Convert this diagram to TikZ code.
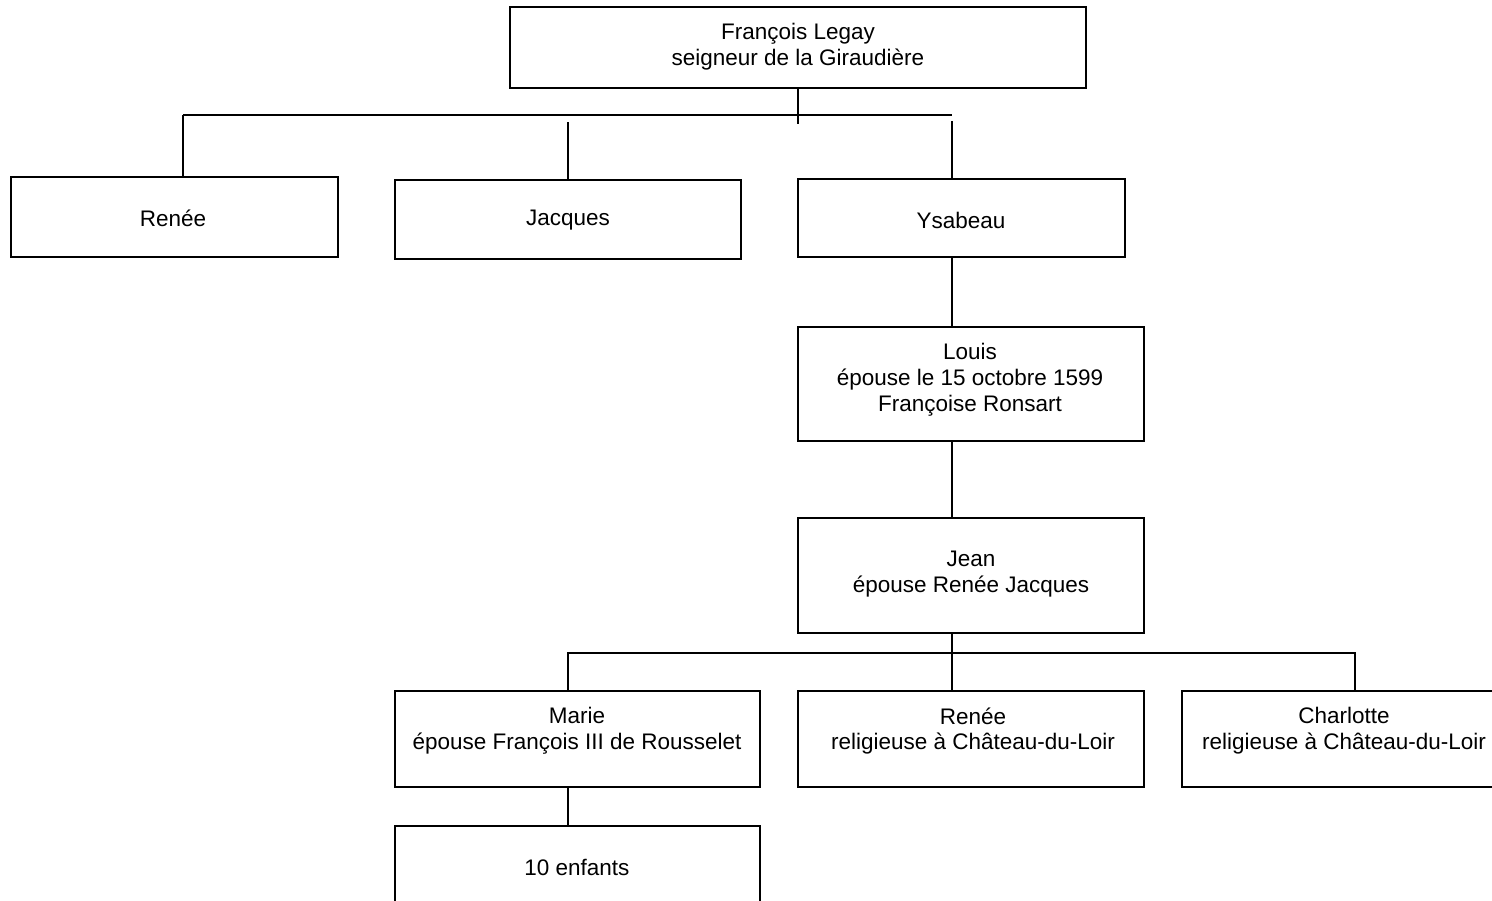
\documentclass[tikz,border=0pt]{standalone}
\usepackage{fontspec}
\setmainfont{Liberation Sans}
\usetikzlibrary{positioning}

\tikzset{
  cadre/.style={draw, line width=1.1pt, inner sep=0pt},
  nom/.style={align=center, inner sep=0pt, font=\fontsize{12.8}{14.7}\selectfont},
  lien/.style={line width=1.1pt}
}

\begin{document}
\begin{tikzpicture}[x=0.02cm, y=-0.02cm]
      \clip (0,0) rectangle (1492,901);
      \fill[white] (0,0) rectangle (1492,901);
      % boxes
      \node[cadre, minimum width=11.52cm, minimum height=1.62cm] (francois) at (798,47.5) {};
      \node[cadre, minimum width=6.54cm, minimum height=1.6cm] (renee) at (174.5,217) {};
      \node[cadre, minimum width=6.92cm, minimum height=1.58cm] (jacques) at (568,219.5) {};
      \node[cadre, minimum width=6.54cm, minimum height=1.56cm] (ysabeau) at (961.5,218) {};
      \node[cadre, minimum width=6.92cm, minimum height=2.28cm] (louis) at (971,384) {};
      \node[cadre, minimum width=6.92cm, minimum height=2.3cm] (jean) at (971,575.5) {};
      \node[cadre, minimum width=7.3cm, minimum height=1.92cm] (marie) at (577.5,739) {};
      \node[cadre, minimum width=6.92cm, minimum height=1.92cm] (renee2) at (971,739) {};
      \node[cadre, minimum width=6.48cm, minimum height=1.92cm] (charlotte) at (1344,739) {};
      \node[cadre, minimum width=7.3cm, minimum height=2cm] (enfants) at (577.5,876) {};
      % names
      \node[nom] (francois-t) at (798,47) {François Legay\\seigneur de la Giraudière};
      \node[nom] (renee-t) at (173,218) {Renée};
      \node[nom] (jacques-t) at (568,220) {Jacques};
      \node[nom] (ysabeau-t) at (961,220) {Ysabeau};
      \node[nom] (louis-t) at (970,380) {Louis\\épouse le 15 octobre 1599\\Françoise Ronsart};
      \node[nom] (jean-t) at (971,574) {Jean\\épouse Renée Jacques};
      \node[nom] (marie-t) at (577,731) {Marie\\épouse François III de Rousselet};
      \node[nom] (renee2-t) at (973,731) {Renée\\religieuse à Château-du-Loir};
      \node[nom] (charlotte-t) at (1344,731) {Charlotte\\religieuse à Château-du-Loir};
      \node[nom] (enfants-t) at (577,867) {10 enfants};
      % first generation
      \coordinate (bus1g) at (183,115);
      \coordinate (bus1) at (952,115);
      \draw[lien] (francois.south) -- ++(0,35);
      \draw[lien] (bus1g) -- (bus1);
      \draw[lien] (bus1g) -- (bus1g |- renee.north);
      \draw[lien] (jacques.north) -- ++(0,-57);
      \draw[lien] (bus1 |- ysabeau.north) -- ++(0,-57);
      % line of Ysabeau
      \draw[lien] (bus1 |- ysabeau.south) -- (bus1 |- louis.north);
      \draw[lien] (bus1 |- louis.south) -- (bus1 |- jean.north);
      % children of Jean
      \coordinate (bus2g) at (568,653);
      \coordinate (bus2d) at (1355,653);
      \draw[lien] (bus1 |- jean.south) -- (bus1 |- renee2.north);
      \draw[lien] (bus2g |- marie.north) -- (bus2g) -- (bus2d) -- (bus2d |- charlotte.north);
      \draw[lien] (bus2g |- marie.south) -- (bus2g |- enfants.north);
\end{tikzpicture}
\end{document}
